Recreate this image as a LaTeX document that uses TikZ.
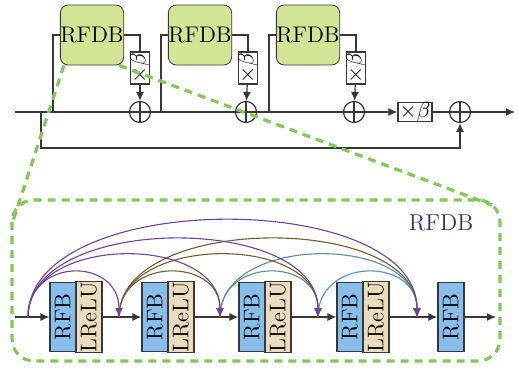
\documentclass[tikz,border=0pt]{standalone}
\usepackage{amsmath,amssymb}
\usepackage{tikz}
\usetikzlibrary{calc,arrows.meta}

\definecolor{rfdbgreen}{RGB}{210,228,150}
\definecolor{rfbblue}{RGB}{135,190,235}
\definecolor{lrelutan}{RGB}{235,220,190}
\definecolor{zoomgreen}{RGB}{130,200,85}
\definecolor{labelnavy}{RGB}{50,50,100}
\definecolor{skipA}{RGB}{112,64,160}
\definecolor{skipB}{RGB}{115,90,50}
\definecolor{skipC}{RGB}{90,145,130}
\definecolor{skipD}{RGB}{75,145,205}
\definecolor{linegray}{RGB}{55,55,55}

\begin{document}
\begin{tikzpicture}[x=0.5pt,y=-0.5pt,
		line/.style={linegray, line width=0.6pt},
		flow/.style={line, -{Latex[length=4.5pt,width=4pt]}},
		arc/.style={line width=0.55pt, -{Latex[length=4.5pt,width=4pt]}},
		rfdb/.style={draw=linegray, fill=rfdbgreen, rounded corners=4pt, minimum width=30pt, minimum height=30pt, inner sep=0pt, font=\fontsize{11.3}{13}\selectfont},
		sum/.style={draw=linegray, line width=0.6pt, circle, minimum size=10.5pt, inner sep=0pt,
			path picture={\draw[linegray, line width=0.6pt] (path picture bounding box.north) -- (path picture bounding box.south)
				(path picture bounding box.west) -- (path picture bounding box.east);}},
		scalev/.style={draw=linegray, line width=0.6pt, fill=white, rotate=90, minimum width=16pt, minimum height=9pt, inner sep=0pt, font=\fontsize{10.5}{12}\selectfont},
		scaleh/.style={draw=linegray, line width=0.6pt, fill=white, minimum width=17pt, minimum height=9pt, inner sep=0pt, font=\fontsize{10.5}{12}\selectfont},
		rfb/.style={draw=linegray, line width=0.6pt, fill=rfbblue, rotate=90, minimum width=34.5pt, minimum height=13pt, inner sep=0pt, font=\fontsize{11.3}{13}\selectfont},
		lrelu/.style={rfb, fill=lrelutan},
		zoomline/.style={zoomgreen, line width=1.6pt, dash pattern=on 4pt off 3pt}]
		\useasboundingbox (0,0) rectangle (518,369);

		%% residual chain of RFDBs
		\coordinate (tin)  at (15,112);
		\coordinate (tout) at (515,112);
		\coordinate (tap0) at (41,112);
		\foreach \i/\x in {1/140,2/246,3/354,4/460}{
			\node[sum] (sum\i) at (\x,112) {};
		}
		\foreach \i/\x/\t in {1/92/53,2/200/161,3/308/269}{% block, its x and where it taps the line
			\node[rfdb] (rfdb\i) at (\x,35) {RFDB};
			\node[scalev] (sc\i) at (\x+48,68) {$\times\beta$};
			\coordinate (tap\i) at (\t,112);
			\draw[line] (tap\i) |- (rfdb\i);
			\draw[line] (rfdb\i) -| (sc\i);
			\draw[flow] (sc\i) -- (sum\i);
		}
		\node[scaleh] (scl) at (415,112) {$\times\beta$};
		\draw[line] (tin) -- (sum1) -- (sum2) -- (sum3);
		\draw[flow] (sum3) -- (scl);
		\draw[line] (scl) -- (sum4);
		\draw[flow] (sum4) -- (tout);
		\draw[flow] (tap0) -- ++(0,36) -| (sum4);% long skip

		%% inside one RFDB
		\coordinate (din)  at (15,317);
		\coordinate (dout) at (496,317);
		\foreach \i/\x in {1/50,2/142,3/239,4/337}{
			\node[rfb] (rfb\i) at (\x+13,317) {RFB};
			\node[lrelu] (lrelu\i) at (\x+39,317) {LReLU};
		}
		\node[rfb] (rfb5) at (451,317) {RFB};
		\draw[flow] (din) -- (rfb1);
		\foreach \i [evaluate=\i as \n using int(\i+1)] in {1,2,3,4}{
			\draw[flow] (lrelu\i) -- (rfb\n);
		}
		\draw[flow] (rfb5) -- (dout);

		\foreach \k/\x in {0/28,1/119,2/220,3/318,4/417}{
			\coordinate (j\k) at (\x,317);
		}
		% dense skips, drawn back to front
		\foreach \a/\b/\h/\col in {3/4/60/skipD, 2/3/60/skipC, 2/4/83/skipC,
				1/2/60/skipB, 1/3/83/skipB, 1/4/104/skipB,
				0/1/60/skipA, 0/2/83/skipA, 0/3/104/skipA, 0/4/129/skipA}{
			\draw[arc, \col] (j\a) .. controls +(0,-\h) and +(0,-\h) .. (j\b);
		}

		%% zoom frame
		\draw[zoomline, rounded corners=11pt] (12,200) rectangle (500,361);
		\node[labelnavy, font=\fontsize{11.5}{13}\selectfont] (title) at (441,223) {RFDB};
		\coordinate (zl) at (12,224);
		\coordinate (zr) at (492,205);
		\draw[zoomline] ([xshift=2pt]rfdb1.south west) -- (zl);
		\draw[zoomline] ([xshift=-2.5pt]rfdb1.south east) -- (zr);
	  \end{tikzpicture}
\end{document}
